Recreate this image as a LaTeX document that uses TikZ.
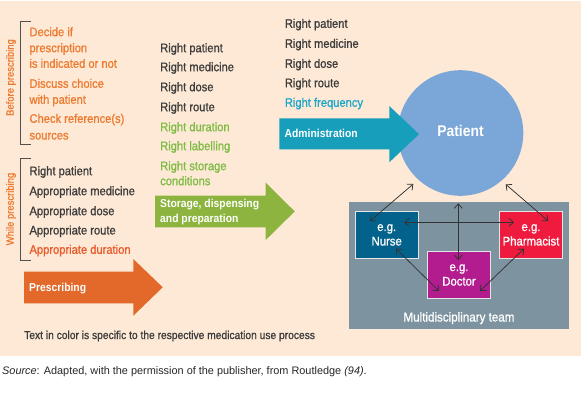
\documentclass[tikz,border=0pt]{standalone}
\usepackage{fontspec}
\setmainfont{Liberation Sans}[FakeStretch=0.9]
\newfontfamily\medfont{Liberation Sans}[FakeStretch=0.9, FakeBold=0.9]
\newfontfamily\srcfont{Liberation Sans}
\usetikzlibrary{arrows.meta}
\definecolor{bgpeach}{HTML}{FDE9D5}
\definecolor{darktxt}{HTML}{3C3C3C}
\definecolor{orgtxt}{HTML}{EE7A30}
\definecolor{redtxt}{HTML}{EA5A2A}
\definecolor{grntxt}{HTML}{7DBB42}
\definecolor{cyntxt}{HTML}{1BA6C9}
\definecolor{orgarr}{HTML}{E2692A}
\definecolor{grnarr}{HTML}{8CB43F}
\definecolor{cynarr}{HTML}{169EBB}
\definecolor{circblue}{HTML}{7BA6D8}
\definecolor{teamgrey}{HTML}{7D939F}
\definecolor{nursebl}{HTML}{03628C}
\definecolor{pharmred}{HTML}{EE1B3E}
\definecolor{docpurp}{HTML}{B21C8E}
\definecolor{brk}{HTML}{505050}
\tikzset{
  txt/.style={anchor=base west, inner sep=0pt, font=\medfont\fontsize{12.4}{14}\selectfont, text=darktxt},
  otxt/.style={txt, text=orgtxt},
  gtxt/.style={txt, text=grntxt},
  ctxt/.style={txt, text=cyntxt},
  rtxt/.style={txt, text=redtxt},
  arrlbl/.style={anchor=base west, inner sep=0pt, font=\bfseries\fontsize{11.5}{14}\selectfont, text=white},
  sidelbl/.style={inner sep=0pt, rotate=90, font=\medfont\fontsize{10.5}{12}\selectfont, text=orgtxt},
  bracket/.style={draw=brk, line width=0.9pt},
  rolebox/.style={draw=white!80!gray, line width=0.7pt, minimum width=63.5pt, minimum height=47.5pt, inner sep=0pt, align=center, text=white, font=\medfont\fontsize{12.6}{14.5}\selectfont},
  link/.style={draw=black!80, line width=0.75pt, {Straight Barb[length=4.5pt,width=8pt]}-{Straight Barb[length=4.5pt,width=8pt]}},
}
\begin{document}
\begin{tikzpicture}[x=1pt,y=-1pt]
\useasboundingbox (0,0) rectangle (584,400);
% background
\fill[bgpeach] (0,1) rectangle (581,355.5);

% left brackets
\draw[bracket] (31,21) -- (20.7,21) -- (20.7,144.3) -- (31,144.3);
\draw[bracket] (31,158.3) -- (20.7,158.3) -- (20.7,260) -- (31,260);
\node[sidelbl] (before) at (11,77.5) {Before prescribing};
\node[sidelbl] (while) at (11,209) {While prescribing};

% before prescribing items
\node[otxt] (b1) at (29.3,36.2) {Decide if};
\node[otxt] (b2) at (29.3,52.2) {prescription};
\node[otxt] (b3) at (29.3,67.8) {is indicated or not};
\node[otxt] (b4) at (29.3,87.8) {Discuss choice};
\node[otxt] (b5) at (29.3,103.8) {with patient};
\node[otxt] (b6) at (29.3,122.8) {Check reference(s)};
\node[otxt] (b7) at (29.3,139.5) {sources};

% while prescribing items
\node[txt] (w1) at (29.3,175.2) {Right patient};
\node[txt] (w2) at (29.3,195.2) {Appropriate medicine};
\node[txt] (w3) at (29.3,215.2) {Appropriate dose};
\node[txt] (w4) at (29.3,234.5) {Appropriate route};
\node[rtxt] (w5) at (29.3,253.8) {Appropriate duration};

% middle column
\node[txt] (m1) at (160,52.2) {Right patient};
\node[txt] (m2) at (160,71.2) {Right medicine};
\node[txt] (m3) at (160,91.2) {Right dose};
\node[txt] (m4) at (160,111.2) {Right route};
\node[gtxt] (m5) at (160,131.2) {Right duration};
\node[gtxt] (m6) at (160,150.2) {Right labelling};
\node[gtxt] (m7) at (160,170.2) {Right storage};
\node[gtxt] (m8) at (160,185.2) {conditions};

% right column
\node[txt] (r1) at (284.7,27.8) {Right patient};
\node[txt] (r2) at (284.7,47.8) {Right medicine};
\node[txt] (r3) at (284.7,67.8) {Right dose};
\node[txt] (r4) at (284.7,87.2) {Right route};
\node[ctxt] (r5) at (284.7,106.8) {Right frequency};

% team box
\fill[teamgrey] (349,202) rectangle (568.7,329);
\node[inner sep=0pt, anchor=base, text=white, font=\medfont\fontsize{12.9}{14}\selectfont] (team) at (459,321.5) {Multidisciplinary team};

% patient circle
\node[circle, fill=circblue, minimum size=125.6pt, inner sep=0pt] (patient) at (460.5,133) {};
\node[inner sep=0pt, anchor=base, text=white, font=\bfseries\fontsize{15.5}{18}\selectfont] (ptlbl) at (460.5,136.8) {Patient};

% process arrows
\fill[orgarr] (24,271.7) -- (133.3,271.7) -- (133.3,259) -- (162.7,287.3) -- (133.3,315.7) -- (133.3,303.3) -- (24,303.3) -- cycle;
\node[arrlbl] (presc) at (29,291) {Prescribing};

\fill[grnarr] (155,195.7) -- (265.7,195.7) -- (265.7,182.7) -- (294.7,211.4) -- (265.7,240) -- (265.7,227.3) -- (155,227.3) -- cycle;
\node[arrlbl] (stor1) at (160,207) {Storage, dispensing};
\node[arrlbl] (stor2) at (160,222) {and preparation};

\fill[cynarr] (279.3,118.3) -- (389.3,118.3) -- (389.3,106) -- (419,134.2) -- (389.3,162.3) -- (389.3,149.3) -- (279.3,149.3) -- cycle;
\node[arrlbl] (admin) at (284.5,137.2) {Administration};

% role boxes
\node[rolebox, fill=nursebl] (nurse) at (386.7,234.9) {e.g.\\Nurse};
\node[rolebox, fill=pharmred] (pharm) at (531,234.9) {e.g.\\Pharmacist};
\node[rolebox, fill=docpurp] (doctor) at (459,275) {e.g.\\Doctor};

% link end points
\coordinate (nA) at (370,221);
\coordinate (cA) at (413.3,184);
\coordinate (cB) at (505.7,184.3);
\coordinate (pA) at (548.3,221);
\coordinate (nH) at (404,222.3);
\coordinate (pH) at (514,222.3);
\coordinate (cV) at (458.3,203.3);
\coordinate (dV) at (458.3,260);
\coordinate (nD) at (396,248.7);
\coordinate (dN) at (439,291);
\coordinate (dP) at (480,291);
\coordinate (pD) at (524,248.7);

\draw[link] (nA) -- (cA);
\draw[link] (cB) -- (pA);
\draw[link] (nH) -- (pH);
\draw[link] (cV) -- (dV);
\draw[link] (nD) -- (dN);
\draw[link] (dP) -- (pD);

% captions
\node[inner sep=0pt, anchor=base west, text=darktxt, font=\medfont\fontsize{11.4}{13}\selectfont] (note) at (24,339) {Text in color is specific to the respective medication use process};
\node[inner sep=0pt, anchor=base west, text=black!85, font=\srcfont\fontsize{10.9}{12}\selectfont] (source) at (2,374.5) {\textit{Source}: Adapted, with the permission of the publisher, from Routledge \textit{(94)}.};
\end{tikzpicture}
\end{document}
